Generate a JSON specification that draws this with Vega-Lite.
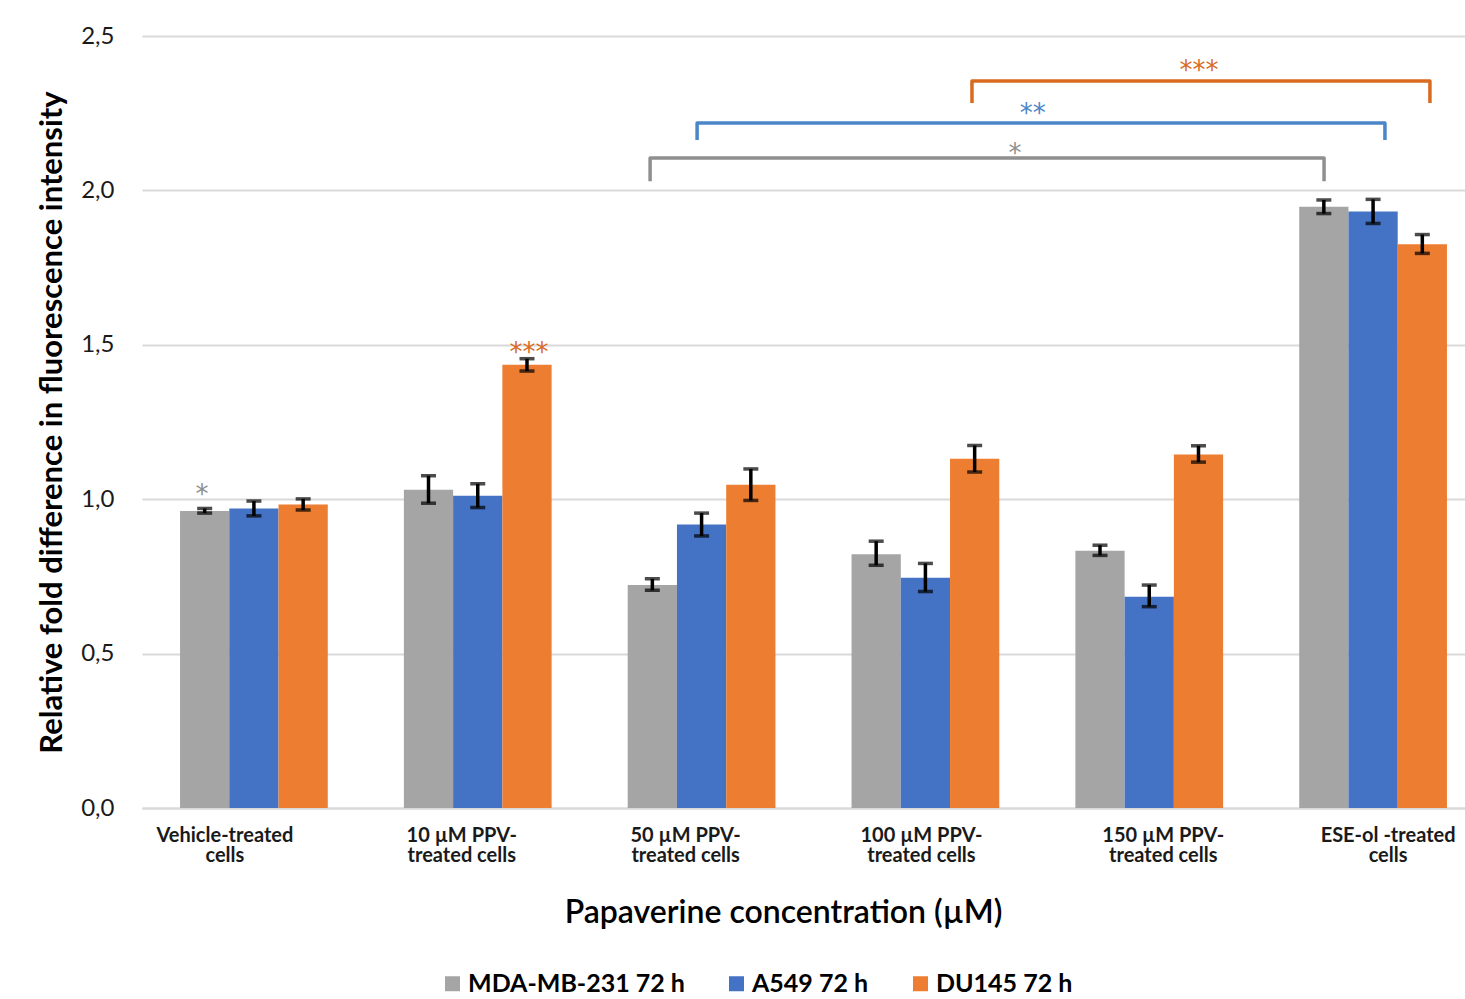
{
  "$schema": "https://vega.github.io/schema/vega-lite/v6.json",
  "width": 1323,
  "height": 772,
  "autosize": {"type": "none"},
  "padding": {"left": 142, "top": 36, "right": 0, "bottom": 191},
  "background": "white",
  "config": {
    "font": "Lato",
    "view": {"stroke": null},
    "axis": {"labelColor": "#1a1a1a", "titleColor": "#000000"}
  },
  "datasets": {
    "bars": [
      {"treatment": "Vehicle-treated cells", "series": "MDA-MB-231 72 h", "value": 0.962, "lo": 0.955, "hi": 0.970},
      {"treatment": "Vehicle-treated cells", "series": "A549 72 h", "value": 0.970, "lo": 0.946, "hi": 0.994},
      {"treatment": "Vehicle-treated cells", "series": "DU145 72 h", "value": 0.983, "lo": 0.965, "hi": 1.001},
      {"treatment": "10 µM PPV-treated cells", "series": "MDA-MB-231 72 h", "value": 1.031, "lo": 0.987, "hi": 1.076},
      {"treatment": "10 µM PPV-treated cells", "series": "A549 72 h", "value": 1.011, "lo": 0.973, "hi": 1.050},
      {"treatment": "10 µM PPV-treated cells", "series": "DU145 72 h", "value": 1.435, "lo": 1.415, "hi": 1.455},
      {"treatment": "50 µM PPV-treated cells", "series": "MDA-MB-231 72 h", "value": 0.722, "lo": 0.705, "hi": 0.742},
      {"treatment": "50 µM PPV-treated cells", "series": "A549 72 h", "value": 0.918, "lo": 0.881, "hi": 0.955},
      {"treatment": "50 µM PPV-treated cells", "series": "DU145 72 h", "value": 1.047, "lo": 0.996, "hi": 1.098},
      {"treatment": "100 µM PPV-treated cells", "series": "MDA-MB-231 72 h", "value": 0.822, "lo": 0.786, "hi": 0.864},
      {"treatment": "100 µM PPV-treated cells", "series": "A549 72 h", "value": 0.746, "lo": 0.701, "hi": 0.792},
      {"treatment": "100 µM PPV-treated cells", "series": "DU145 72 h", "value": 1.131, "lo": 1.088, "hi": 1.174},
      {"treatment": "150 µM PPV-treated cells", "series": "MDA-MB-231 72 h", "value": 0.833, "lo": 0.818, "hi": 0.851},
      {"treatment": "150 µM PPV-treated cells", "series": "A549 72 h", "value": 0.684, "lo": 0.652, "hi": 0.722},
      {"treatment": "150 µM PPV-treated cells", "series": "DU145 72 h", "value": 1.145, "lo": 1.120, "hi": 1.173},
      {"treatment": "ESE-ol -treated cells", "series": "MDA-MB-231 72 h", "value": 1.947, "lo": 1.925, "hi": 1.969},
      {"treatment": "ESE-ol -treated cells", "series": "A549 72 h", "value": 1.932, "lo": 1.893, "hi": 1.971},
      {"treatment": "ESE-ol -treated cells", "series": "DU145 72 h", "value": 1.826, "lo": 1.796, "hi": 1.857}
    ],
    "brackets": [
      {"series": "MDA-MB-231 72 h", "pt": 1, "x": 2.27, "y": 2.030},
      {"series": "MDA-MB-231 72 h", "pt": 2, "x": 2.27, "y": 2.105},
      {"series": "MDA-MB-231 72 h", "pt": 3, "x": 5.281, "y": 2.105},
      {"series": "MDA-MB-231 72 h", "pt": 4, "x": 5.281, "y": 2.030},
      {"series": "A549 72 h", "pt": 1, "x": 2.48, "y": 2.163},
      {"series": "A549 72 h", "pt": 2, "x": 2.48, "y": 2.218},
      {"series": "A549 72 h", "pt": 3, "x": 5.553, "y": 2.218},
      {"series": "A549 72 h", "pt": 4, "x": 5.553, "y": 2.163},
      {"series": "DU145 72 h", "pt": 1, "x": 3.708, "y": 2.283},
      {"series": "DU145 72 h", "pt": 2, "x": 3.708, "y": 2.354},
      {"series": "DU145 72 h", "pt": 3, "x": 5.754, "y": 2.354},
      {"series": "DU145 72 h", "pt": 4, "x": 5.754, "y": 2.283}
    ],
    "stars": [
      {"series": "MDA-MB-231 72 h", "x": 0.268, "y": 1.033, "label": "*"},
      {"series": "DU145 72 h", "x": 1.729, "y": 1.493, "label": "***"},
      {"series": "MDA-MB-231 72 h", "x": 3.90, "y": 2.137, "label": "*"},
      {"series": "A549 72 h", "x": 3.98, "y": 2.267, "label": "**"},
      {"series": "DU145 72 h", "x": 4.722, "y": 2.406, "label": "***"}
    ]
  },
  "layer": [
    {
      "layer": [
        {
          "data": {"name": "bars"},
          "mark": {"type": "bar"},
          "encoding": {
            "x": {
              "field": "treatment", "type": "nominal", "sort": null,
              "title": "Papaverine concentration  (µM)",
              "scale": {"range": [0, 1343], "paddingInner": 0.34, "paddingOuter": 0.17},
              "axis": {
                "labelAngle": 0,
                "labelFont": "Lato",
                "labelFontSize": 20,
                "labelFontWeight": "bold",
                "labelLineHeight": 20,
                "labelBaseline": "top",
                "labelPadding": 17,
                "labelOffset": {
                  "condition": [
                    {"test": "datum.value === 'Vehicle-treated cells'", "value": -29},
                    {"test": "datum.value === '10 µM PPV-treated cells'", "value": -16},
                    {"test": "datum.value === '50 µM PPV-treated cells'", "value": -16},
                    {"test": "datum.value === '100 µM PPV-treated cells'", "value": -4},
                    {"test": "datum.value === '150 µM PPV-treated cells'", "value": 14}
                  ],
                  "value": 15
                },
                "labelExpr": "indexof(datum.value,'PPV-')>=0 ? [slice(datum.value,0,indexof(datum.value,'PPV-')+4), slice(datum.value,indexof(datum.value,'PPV-')+4)] : [replace(datum.value,' cells',''), 'cells']",
                "ticks": false,
                "domain": true,
                "domainColor": "#d9d9d9",
                "domainWidth": 2,
                "titleFont": "Lato",
                "titleFontSize": 32,
                "titleFontWeight": 600,
                "titlePadding": 32,
                "titleX": 641
              }
            },
            "xOffset": {"field": "series", "type": "nominal", "sort": null},
            "y": {
              "field": "value", "type": "quantitative",
              "title": "Relative fold difference in fluorescence intensity",
              "scale": {"domain": [0, 2.5], "nice": false},
              "axis": {
                "values": [0, 0.5, 1, 1.5, 2, 2.5],
                "labelExpr": "replace(format(datum.value,'.1f'),'.',',')",
                "labelFont": "Lato",
                "labelFontSize": 24,
                "labelPadding": 28,
                "ticks": false,
                "domain": false,
                "grid": true,
                "gridColor": "#d9d9d9",
                "gridWidth": 2,
                "titleFont": "Lato",
                "titleFontSize": 31,
                "titleFontWeight": "bold",
                "titlePadding": 12
              }
            },
            "color": {
              "field": "series", "type": "nominal", "sort": null,
              "scale": {
                "domain": ["MDA-MB-231 72 h", "A549 72 h", "DU145 72 h"],
                "range": ["#a5a5a5", "#4472c4", "#ed7d31"]
              },
              "legend": {
                "title": null,
                "orient": "none",
                "direction": "horizontal",
                "legendX": 298,
                "legendY": 935,
                "padding": 0,
                "symbolType": "square",
                "symbolSize": 225,
                "symbolStrokeWidth": 0,
                "labelFont": "Lato",
                "labelFontSize": 25,
                "labelFontWeight": "bold",
                "labelColor": "#000000",
                "labelOffset": 3,
                "columnPadding": 39,
                "labelLimit": 400
              }
            }
          }
        },
        {
          "data": {"name": "bars"},
          "mark": {"type": "rule", "color": "#000000", "strokeWidth": 3.5},
          "encoding": {
            "x": {"field": "treatment", "type": "nominal", "sort": null, "title": "Papaverine concentration  (µM)"},
            "xOffset": {"field": "series", "type": "nominal", "sort": null},
            "y": {"field": "lo", "type": "quantitative", "title": "Relative fold difference in fluorescence intensity"},
            "y2": {"field": "hi"}
          }
        },
        {
          "data": {"name": "bars"},
          "mark": {"type": "tick", "color": "#000000", "thickness": 3.5, "size": 15, "orient": "horizontal"},
          "encoding": {
            "x": {"field": "treatment", "type": "nominal", "sort": null, "title": "Papaverine concentration  (µM)"},
            "xOffset": {"field": "series", "type": "nominal", "sort": null},
            "y": {"field": "lo", "type": "quantitative", "title": "Relative fold difference in fluorescence intensity"}
          }
        },
        {
          "data": {"name": "bars"},
          "mark": {"type": "tick", "color": "#000000", "thickness": 3.5, "size": 15, "orient": "horizontal"},
          "encoding": {
            "x": {"field": "treatment", "type": "nominal", "sort": null, "title": "Papaverine concentration  (µM)"},
            "xOffset": {"field": "series", "type": "nominal", "sort": null},
            "y": {"field": "hi", "type": "quantitative", "title": "Relative fold difference in fluorescence intensity"}
          }
        }
      ]
    },
    {
      "layer": [
        {
          "data": {"name": "brackets"},
          "mark": {"type": "line", "strokeWidth": 3.5, "strokeJoin": "round", "strokeCap": "butt"},
          "encoding": {
            "x": {"field": "x", "type": "quantitative", "scale": {"domain": [0, 6], "range": [0, 1343], "nice": false, "zero": false}, "axis": null},
            "y": {"field": "y", "type": "quantitative", "title": "Relative fold difference in fluorescence intensity"},
            "order": {"field": "pt", "type": "quantitative"},
            "color": {
              "field": "series", "type": "nominal", "sort": null,
              "scale": {
                "domain": ["MDA-MB-231 72 h", "A549 72 h", "DU145 72 h"],
                "range": ["#8f8f8f", "#4a86c8", "#d96b20"]
              },
              "legend": null
            }
          }
        },
        {
          "data": {"name": "stars"},
          "mark": {"type": "text", "font": "DejaVu Sans", "fontSize": 26, "baseline": "middle", "align": "center", "dy": 6},
          "encoding": {
            "x": {"field": "x", "type": "quantitative", "axis": null},
            "y": {"field": "y", "type": "quantitative", "title": "Relative fold difference in fluorescence intensity"},
            "text": {"field": "label"},
            "color": {"field": "series", "type": "nominal", "sort": null, "legend": null}
          }
        }
      ]
    }
  ],
  "resolve": {"scale": {"x": "independent", "color": "independent"}}
}
